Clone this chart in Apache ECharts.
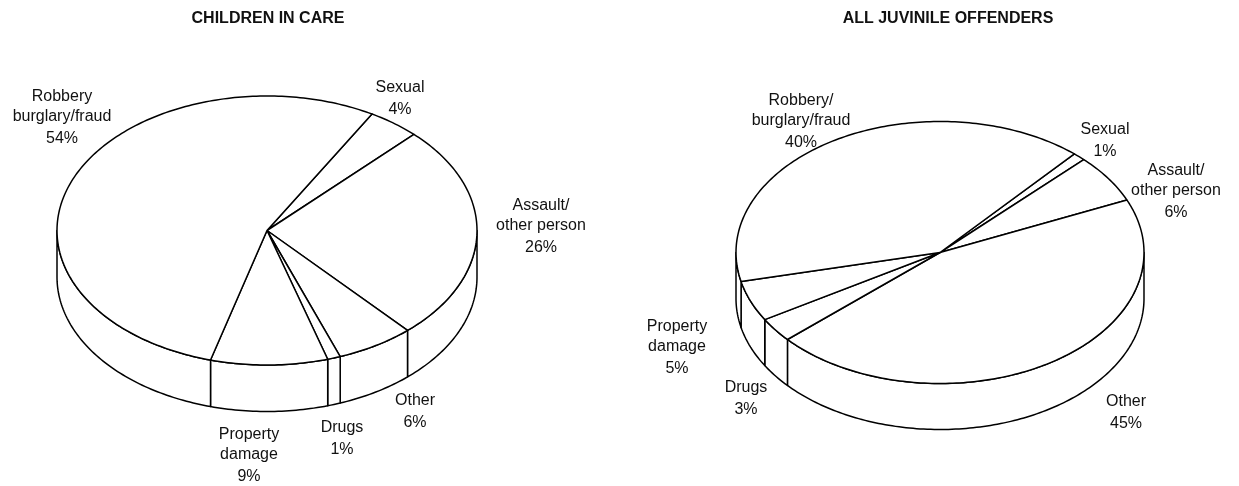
<!DOCTYPE html>
<html>
<head>
<meta charset="utf-8">
<title>Offence types: children in care vs all juvenile offenders</title>
<script src="https://cdn.jsdelivr.net/npm/echarts@6/dist/echarts.min.js"></script>
<style>
  html, body { margin: 0; padding: 0; background: #ffffff; }
  #chart { width: 1239px; height: 486px; }
</style>
</head>
<body>
<div id="chart"></div>
<script>
// ---- data ----
const chartTitles = ['CHILDREN IN CARE', 'ALL JUVINILE OFFENDERS'];

const careCategories = ['Sexual', 'Assault/\nother person', 'Other', 'Drugs', 'Property\ndamage', 'Robbery\nburglary/fraud'];
const careShares = [4, 26, 6, 1, 9, 54];

const allCategories = ['Sexual', 'Assault/\nother person', 'Other', 'Drugs', 'Property\ndamage', 'Robbery/\nburglary/fraud'];
const allShares = [1, 6, 45, 3, 5, 40];

// ---- layout of the two tilted pies ----
// start: angle (deg, clockwise from 3 o'clock) where the first slice begins
const pieLayouts = [
  { cx: 267, cy: 230.5, rx: 210, ry: 134.5, depth: 46.5, start: -60,
    titleX: 268,
    // label anchor: centre x, first text line y (one per slice)
    labels: [[400, 88], [541, 206], [415, 401], [342, 428], [249, 435], [62, 97]] },
  { cx: 940, cy: 252.5, rx: 204, ry: 131, depth: 46, start: -48.8,
    titleX: 948,
    labels: [[1105, 130], [1176, 171], [1126, 402], [746, 388], [677, 327], [801, 101]] }
];

const LINE = '#000000';
const LW = 1.5;
const FONT = 'Liberation Sans, Arial, Helvetica, sans-serif';

function pt(p, deg, dy) {
  const r = deg * Math.PI / 180;
  return [p.cx + p.rx * Math.cos(r), p.cy + p.ry * Math.sin(r) + (dy || 0)];
}

function arc(p, a, b, dy) {
  const out = [];
  const n = Math.max(2, Math.ceil(Math.abs(b - a)));
  for (let k = 0; k <= n; k++) out.push(pt(p, a + (b - a) * k / n, dy));
  return out;
}

function makeRenderer(p, shares) {
  const total = shares.reduce((s, v) => s + v, 0);
  return function (params, api) {
    const i = params.dataIndex;
    let before = 0;
    for (let k = 0; k < i; k++) before += shares[k];
    const a0 = p.start + before / total * 360;
    const a1 = a0 + api.value(0) / total * 360;
    const children = [];

    // side wall: only the front half of the rim (0..180 deg) is visible
    for (let k = -1; k <= 1; k++) {
      const lo = Math.max(a0, 360 * k);
      const hi = Math.min(a1, 360 * k + 180);
      if (hi > lo) {
        const top = arc(p, lo, hi, 0);
        const bottom = arc(p, hi, lo, p.depth);
        children.push({
          type: 'polygon',
          shape: { points: top.concat(bottom) },
          style: { fill: '#ffffff', stroke: LINE, lineWidth: LW, lineJoin: 'round' }
        });
      }
    }

    // top face of the slice
    children.push({
      type: 'polygon',
      shape: { points: [[p.cx, p.cy]].concat(arc(p, a0, a1, 0)) },
      style: { fill: '#ffffff', stroke: LINE, lineWidth: LW, lineJoin: 'round' }
    });

    // slice label: category name then share
    const name = api.value(1);
    const pos = p.labels[i];
    const lines = String(name).split('\n').map(s => '{n|' + s + '}');
    lines.push('{p|' + api.value(0) + '%}');
    children.push({
      type: 'text',
      x: pos[0],
      y: pos[1] - 10,
      style: {
        text: lines.join('\n'),
        align: 'center',
        verticalAlign: 'top',
        fill: '#111111',
        font: '16px ' + FONT,
        rich: {
          n: { fontSize: 16, fontFamily: FONT, lineHeight: 20, fill: '#111111' },
          p: { fontSize: 16, fontFamily: FONT, lineHeight: 24, fill: '#111111' }
        }
      }
    });

    return { type: 'group', children: children };
  };
}

function pieSeries(p, names, shares) {
  return {
    type: 'custom',
    coordinateSystem: 'none',
    silent: true,
    animation: false,
    data: shares.map((v, i) => [v, names[i]]),
    dimensions: ['share', { name: 'name', type: 'ordinal' }],
    renderItem: makeRenderer(p, shares)
  };
}

const chart = echarts.init(document.getElementById('chart'), null, { renderer: 'canvas' });
chart.setOption({
  backgroundColor: '#ffffff',
  animation: false,
  title: chartTitles.map((t, i) => ({
    text: t,
    left: pieLayouts[i].titleX,
    top: 9,
    padding: 0,
    textAlign: 'center',
    textStyle: { fontFamily: FONT, fontSize: 16, fontWeight: 'bold', color: '#111111', lineHeight: 20 }
  })),
  series: [
    pieSeries(pieLayouts[0], careCategories, careShares),
    pieSeries(pieLayouts[1], allCategories, allShares)
  ]
});
</script>
</body>
</html>
